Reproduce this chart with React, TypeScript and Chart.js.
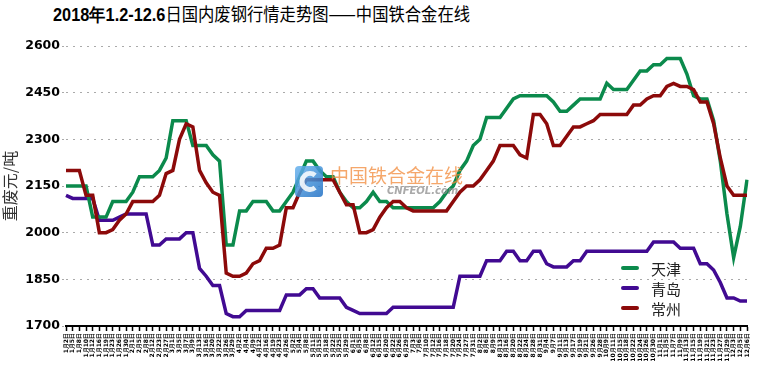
import React, { useEffect, useRef } from "react";
import { Chart, registerables } from "chart.js";
Chart.register(...registerables);

const labels = [
  "1月2日","1月5日","1月8日","1月10日","1月12日","1月16日","1月19日","1月23日","1月26日","1月30日",
  "2月1日","2月5日","2月8日","2月12日","2月23日","2月27日",
  "3月1日","3月5日","3月7日","3月9日","3月13日","3月16日","3月20日","3月22日","3月26日","3月29日",
  "4月2日","4月4日","4月9日","4月12日","4月16日","4月19日","4月23日","4月26日",
  "5月2日","5月4日","5月8日","5月11日","5月15日","5月18日","5月22日","5月25日","5月29日",
  "6月1日","6月5日","6月8日","6月12日","6月15日","6月20日","6月22日","6月26日","6月29日",
  "7月3日","7月6日","7月10日","7月12日","7月16日","7月18日","7月20日","7月24日","7月27日","7月31日",
  "8月2日","8月6日","8月9日","8月13日","8月16日","8月20日","8月22日","8月24日","8月28日","8月31日",
  "9月4日","9月7日","9月11日","9月13日","9月17日","9月19日","9月21日","9月26日","9月28日",
  "10月9日","10月11日","10月15日","10月18日","10月22日","10月24日","10月26日","10月30日",
  "11月1日","11月5日","11月7日","11月9日","11月13日","11月15日","11月19日","11月21日","11月23日","11月27日","11月29日",
  "12月3日","12月5日","12月6日",
];

const seriesNames = ["天津", "青岛", "常州"];

const tianjin = [
  2150,2150,2150,2150,2050,2050,2050,2100,2100,2100,
  2130,2180,2180,2180,2200,2240,2360,2360,2360,2280,
  2280,2280,2250,2230,1960,1960,2070,2070,2100,2100,
  2100,2070,2070,2100,2130,2180,2230,2230,2200,2180,
  2180,2130,2100,2080,2080,2100,2130,2100,2100,2080,
  2080,2080,2080,2080,2080,2080,2100,2130,2150,2200,
  2230,2280,2300,2370,2370,2370,2400,2430,2440,2440,
  2440,2440,2440,2420,2390,2390,2410,2430,2430,2430,
  2430,2480,2460,2460,2460,2490,2520,2520,2540,2540,
  2560,2560,2560,2510,2440,2430,2430,2360,2230,2060,
  1920,2020,2170,
];

const qingdao = [
  2120,2110,2110,2110,2110,2040,2040,2040,2050,2060,
  2060,2060,2060,1960,1960,1980,1980,1980,2000,2000,
  1885,1860,1830,1830,1740,1730,1730,1750,1750,1750,
  1750,1750,1750,1800,1800,1800,1820,1820,1790,1790,
  1790,1790,1760,1750,1740,1740,1740,1740,1740,1760,
  1760,1760,1760,1760,1760,1760,1760,1760,1760,1860,
  1860,1860,1860,1910,1910,1910,1940,1940,1910,1910,
  1940,1940,1900,1890,1890,1890,1910,1910,1940,1940,
  1940,1940,1940,1940,1940,1940,1940,1940,1970,1970,
  1970,1970,1950,1950,1950,1900,1900,1880,1840,1790,
  1790,1780,1780,
];

const changzhou = [
  2200,2200,2200,2120,2120,2000,2000,2010,2040,2060,
  2100,2100,2100,2100,2120,2190,2200,2300,2350,2340,
  2200,2160,2130,2120,1870,1860,1860,1870,1900,1910,
  1950,1950,1960,2080,2080,2130,2170,2170,2170,2170,
  2170,2130,2090,2090,2000,2000,2010,2050,2080,2100,
  2100,2080,2070,2070,2070,2070,2070,2070,2100,2130,
  2150,2150,2170,2200,2230,2280,2280,2280,2250,2240,
  2380,2380,2350,2280,2280,2310,2340,2340,2350,2360,
  2380,2380,2380,2380,2380,2410,2410,2430,2440,2440,
  2470,2480,2470,2470,2460,2420,2420,2350,2240,2150,
  2120,2120,2120,
];

const seriesColors = ["#0b8a4c", "#410a92", "#8c0a0a"];
const yMin = 1700;
const yMax = 2600;
const yStep = 150;
const yTitle = "重废元/吨";
const watermarkText = "中国铁合金在线";
const watermarkSub = "CNFEOL.com";

const legendPlugin = {
  id: "customLegend",
  afterDraw(chart: any) {
    const ctx = chart.ctx;
    const { right, bottom } = chart.chartArea;
    const x0 = right - 124;
    const y0 = bottom - 58;
    ctx.save();
    chart.data.datasets.forEach((ds: any, i: number) => {
      const y = y0 + i * 20;
      ctx.strokeStyle = ds.borderColor;
      ctx.lineWidth = 4;
      ctx.lineCap = "round";
      ctx.beginPath();
      ctx.moveTo(x0, y);
      ctx.lineTo(x0 + 14, y);
      ctx.stroke();
      ctx.fillStyle = "#222";
      ctx.font = '15px "Noto Sans CJK SC", sans-serif';
      ctx.textBaseline = "middle";
      ctx.textAlign = "left";
      ctx.fillText(ds.label, x0 + 28, y + 1);
    });
    ctx.restore();
  },
};

const watermarkPlugin = {
  id: "watermark",
  afterDatasetsDraw(chart: any) {
    const ctx = chart.ctx;
    ctx.save();
    ctx.globalAlpha = 0.85;
    const g = ctx.createLinearGradient(295, 166, 323, 197);
    g.addColorStop(0, "#6ab4ee");
    g.addColorStop(1, "#1f6fc4");
    ctx.fillStyle = g;
    ctx.beginPath();
    (ctx as any).roundRect(295, 166, 28, 31, 4);
    ctx.fill();
    ctx.strokeStyle = "#ffffff";
    ctx.lineWidth = 5;
    ctx.beginPath();
    ctx.arc(310, 181.5, 8, 0.28 * Math.PI, 1.72 * Math.PI);
    ctx.stroke();
    ctx.globalAlpha = 0.75;
    ctx.fillStyle = "#f28a3a";
    ctx.font = '19px "Noto Sans CJK SC", sans-serif';
    ctx.textBaseline = "middle";
    ctx.fillText(watermarkText, 330, 176);
    ctx.fillStyle = "#8e8e8e";
    ctx.font = 'italic bold 10px "DejaVu Sans", sans-serif';
    ctx.fillText(watermarkSub, 387, 191);
    ctx.restore();
  },
};

export default function App() {
  const ref = useRef<HTMLCanvasElement>(null);
  useEffect(() => {
    const series = [tianjin, qingdao, changzhou];
    const orders = [1, 2, 0];
    const chart = new Chart(ref.current as HTMLCanvasElement, {
      type: "line",
      data: {
        labels,
        datasets: series.map((d, i) => ({
          label: seriesNames[i],
          data: d,
          borderColor: seriesColors[i],
          backgroundColor: seriesColors[i],
          borderWidth: 3.5,
          pointRadius: 0,
          tension: 0,
          fill: false,
          order: orders[i],
        })),
      },
      options: {
        responsive: false,
        animation: false,
        layout: { padding: { top: 46, right: 13, left: 0, bottom: 0 } },
        plugins: {
          legend: { display: false },
          tooltip: { enabled: false },
          title: { display: false },
        },
        scales: {
          x: {
            type: "category",
            offset: false,
            grid: {
              drawOnChartArea: false,
              drawTicks: true,
              tickLength: 5,
              tickColor: "#000",
              tickWidth: 1.5,
            },
            border: { display: true, color: "#000", width: 2 },
            ticks: {
              autoSkip: false,
              maxRotation: 90,
              minRotation: 90,
              padding: 2,
              color: "#000",
              font: { size: 6, family: '"DejaVu Sans", sans-serif', weight: "bold" },
            },
            afterFit: (s: any) => {
              s.height = 39;
            },
          },
          y: {
            min: yMin,
            max: yMax,
            ticks: {
              stepSize: yStep,
              color: "#000",
              padding: 2,
              font: { size: 12.5, family: '"DejaVu Sans", sans-serif', weight: "bold" },
              callback: (v: any) => String(v),
            },
            grid: {
              color: "#aaaaaa",
              lineWidth: 1,
              drawTicks: true,
              tickLength: 4,
              tickColor: "#aaaaaa",
              tickBorderDash: [2, 3],
            },
            border: { display: false, dash: [2, 5] },
            title: {
              display: true,
              text: yTitle,
              color: "#333",
              padding: 0,
              font: { size: 16, family: '"Noto Sans CJK SC", sans-serif' },
            },
            afterFit: (s: any) => {
              s.width = 66;
            },
          },
        },
      },
      plugins: [watermarkPlugin, legendPlugin],
    } as any);
    return () => chart.destroy();
  }, []);

  return (
    <div style={{ position: "fixed", left: 0, top: 0, width: 760, height: 365, background: "#fff", overflow: "hidden" }}>
      <div
        style={{
          position: "absolute",
          left: 53,
          top: 2,
          whiteSpace: "nowrap",
          transformOrigin: "left top",
          transform: "scaleX(0.906)",
          fontSize: 18,
          lineHeight: "22px",
          color: "#000",
        }}
      >
        <span style={{ fontFamily: '"Liberation Sans", Arial, sans-serif', fontWeight: 700 }}>2018年1.2-12.6</span>
        <span style={{ fontFamily: '"Noto Sans CJK SC", sans-serif' }}>日国内废钢行情走势图——中国铁合金在线</span>
      </div>
      <canvas ref={ref} width={760} height={365} style={{ position: "absolute", left: 0, top: 0, width: 760, height: 365 }} />
    </div>
  );
}
